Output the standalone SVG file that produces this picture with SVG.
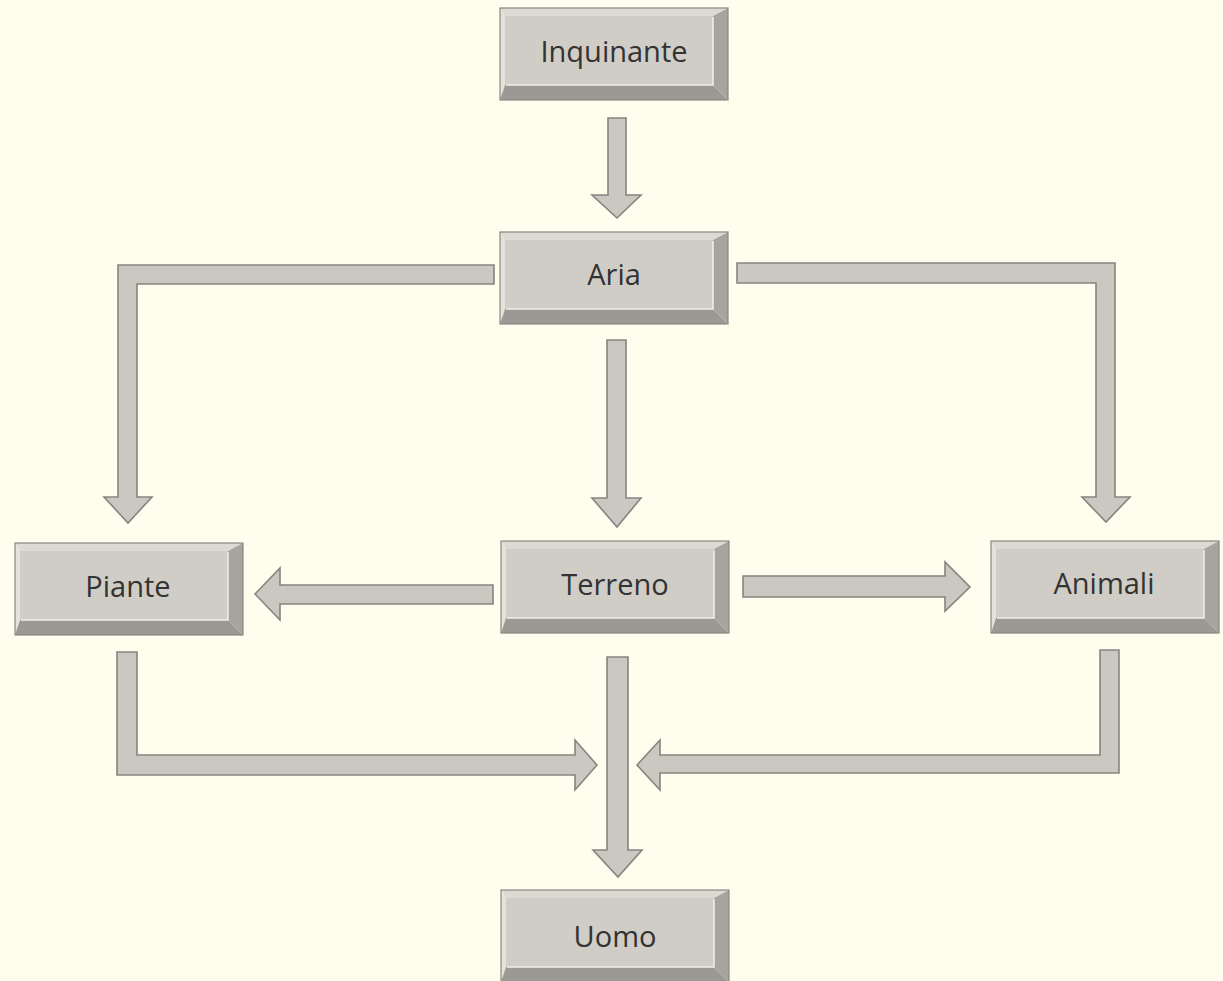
<svg xmlns="http://www.w3.org/2000/svg" width="1223" height="981" viewBox="0 0 1223 981">
<defs>
<style>
.bg{fill:#fffdee}
.face{fill:#cfcdc6}
.bt{fill:#dcdad3}
.bl{fill:#e4e2dc}
.br{fill:#a6a49e}
.bb{fill:#9b9993}
.edge{fill:none;stroke:#8a8883;stroke-width:1.2}
.hl{fill:none;stroke:#f1efe8;stroke-width:1.5}
.lbl{font-family:"Open Sans","DejaVu Sans",sans-serif;font-size:29px;fill:#333333;text-anchor:middle}
.arr{fill:#cac8c1;stroke:#86847f;stroke-width:1.6;stroke-linejoin:miter}
</style>
<g id="bevel">
<polygon class="face" points="5,8 213,8 213,77 5,77"/>
<polygon class="bt" points="0,0 228,0 213,8 5,8"/>
<polygon class="bl" points="0,0 5,8 5,77 0,92"/>
<polygon class="br" points="228,0 228,92 213,77 213,8"/>
<polygon class="bb" points="0,92 228,92 213,77 5,77"/>
<polyline class="hl" points="6,77 213,77 213,9"/>
<rect class="edge" x="0" y="0" width="228" height="92"/>
</g>
</defs>
<rect class="bg" x="0" y="0" width="1223" height="981"/>

<g id="connectors">
<polygon class="arr" points="608,118 626,118 626,195 641,195 617,218 592,195 608,195"/>
<polygon class="arr" points="494,265 494,284 137,284 137,497 152,497 128,523 104,497 118,497 118,265"/>
<polygon class="arr" points="737,263 1115,263 1115,497 1130,497 1106,522 1082,497 1096,497 1096,283 737,283"/>
<polygon class="arr" points="607,340 626,340 626,498 641,498 617,527 592,498 607,498"/>
<polygon class="arr" points="493,585 493,604 280,604 280,620 255,594 280,568 280,585"/>
<polygon class="arr" points="743,576 945,576 945,562 970,587 945,611 945,597 743,597"/>
<polygon class="arr" points="117,652 137,652 137,755 575,755 575,740 597,765 575,790 575,775 117,775"/>
<polygon class="arr" points="1100,650 1119,650 1119,773 660,773 660,790 637,765 660,740 660,755 1100,755"/>
<polygon class="arr" points="607,657 628,657 628,850 642,850 618,877 593,850 607,850"/>
</g>

<g id="inquinante">
<use href="#bevel" transform="translate(500,8)"/>
<text class="lbl" x="614" y="62">Inquinante</text>
</g>
<g id="aria">
<use href="#bevel" transform="translate(500,232)"/>
<text class="lbl" x="614" y="285">Aria</text>
</g>
<g id="piante">
<use href="#bevel" transform="translate(15,543)"/>
<text class="lbl" x="128" y="597">Piante</text>
</g>
<g id="terreno">
<use href="#bevel" transform="translate(501,541)"/>
<text class="lbl" x="615" y="595">Terreno</text>
</g>
<g id="animali">
<use href="#bevel" transform="translate(991,541)"/>
<text class="lbl" x="1104" y="594">Animali</text>
</g>
<g id="uomo">
<use href="#bevel" transform="translate(501,890)"/>
<text class="lbl" x="615" y="947">Uomo</text>
</g>
</svg>
